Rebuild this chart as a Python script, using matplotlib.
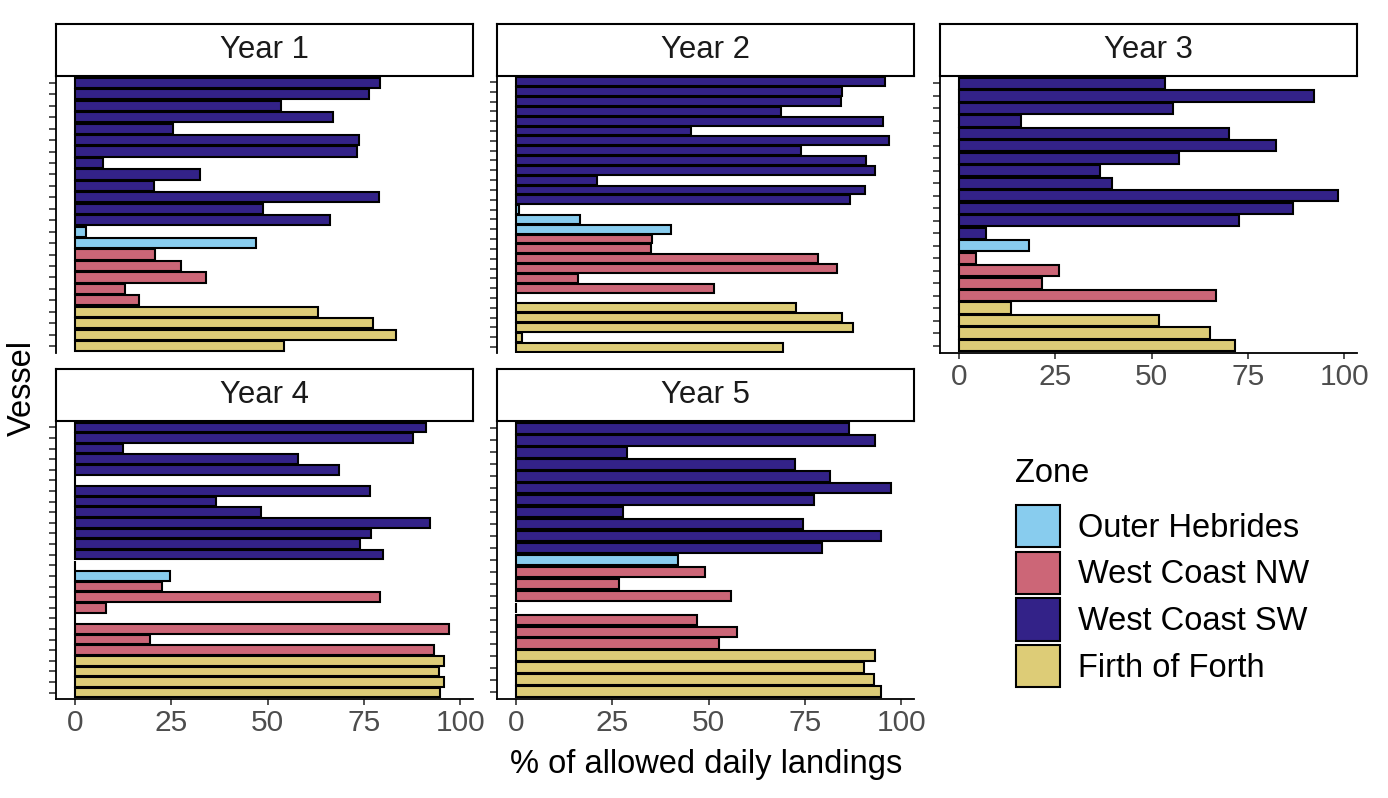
import numpy as np
import matplotlib.pyplot as plt
from matplotlib.patches import Patch

plt.rcParams['font.family'] = ['Liberation Sans', 'DejaVu Sans']

zones = ["Outer Hebrides", "West Coast NW", "West Coast SW", "Firth of Forth"]
zone_codes = ["O", "N", "S", "F"]
zone_colours = ["#88CCEE", "#CC6677", "#332288", "#DDCC77"]
years = ["Year 1", "Year 2", "Year 3", "Year 4", "Year 5"]

# vessels top to bottom, zone code per vessel and % of allowed daily landings
year1_zone = ["S"] * 13 + ["O"] * 2 + ["N"] * 5 + ["F"] * 4
year1_pct = [79.3, 76.4, 53.6, 67.0, 25.5, 73.7, 73.1, 7.3, 32.5, 20.6, 78.8, 48.9, 66.3,
             2.8, 46.9,
             20.8, 27.5, 33.9, 12.9, 16.5,
             63.0, 77.3, 83.4, 54.3]

year2_zone = ["S"] * 13 + ["O"] * 3 + ["N"] * 7 + ["F"] * 5
year2_pct = [95.9, 84.6, 84.4, 68.8, 95.4, 45.5, 96.9, 74.1, 90.9, 93.3, 21.1, 90.7, 86.7,
             0.9, 16.7, 40.2,
             35.4, 35.1, 78.4, 83.3, 16.2, 51.5, 0.0,
             72.7, 84.6, 87.4, 1.5, 69.4]

year3_zone = ["S"] * 13 + ["O"] * 1 + ["N"] * 4 + ["F"] * 4
year3_pct = [53.4, 92.2, 55.6, 16.0, 70.0, 82.3, 57.1, 36.6, 39.8, 98.4, 86.6, 72.7, 7.0,
             18.3,
             4.3, 25.9, 21.6, 66.6,
             13.4, 52.0, 65.1, 71.6]

year4_zone = ["S"] * 13 + ["O"] * 2 + ["N"] * 7 + ["F"] * 4
year4_pct = [91.0, 87.8, 12.5, 57.8, 68.5, 0.0, 76.6, 36.7, 48.4, 92.1, 76.9, 74.0, 79.9,
             0.0, 24.6,
             22.7, 79.2, 8.1, 0.0, 97.2, 19.4, 93.2,
             95.9, 94.6, 95.8, 94.7]

year5_zone = ["S"] * 11 + ["O"] * 1 + ["N"] * 7 + ["F"] * 4
year5_pct = [86.4, 93.3, 28.9, 72.5, 81.6, 97.3, 77.3, 27.9, 74.4, 94.7, 79.4,
             42.0,
             49.1, 26.8, 55.9, 0.0, 47.0, 57.3, 52.8,
             93.3, 90.4, 93.0, 94.7]

x_ticks = [0, 25, 50, 75, 100]

all_zones = [year1_zone, year2_zone, year3_zone, year4_zone, year5_zone]
all_pct = [year1_pct, year2_pct, year3_pct, year4_pct, year5_pct]

W, H = 1388, 798
fig = plt.figure(figsize=(W / 100, H / 100), dpi=100)

col_left = [56, 497, 940]
panel_w = 417
# (strip top, panel top, panel bottom) in pixels
rows = [(24, 76, 353), (369, 421, 699)]
slots = [(0, 0), (0, 1), (0, 2), (1, 0), (1, 1)]
show_x = [False, False, True, True, True]

colour_of = dict(zip(zone_codes, zone_colours))
xmax = max(max(p) for p in all_pct)
xlim = (-0.05 * xmax, xmax * 1.05)

for i, year in enumerate(years):
    r, c = slots[i]
    strip_top, top, bottom = rows[r]
    left = col_left[c]
    ax = fig.add_axes([left / W, 1 - bottom / H, panel_w / W, (bottom - top) / H])
    vals = all_pct[i]
    n = len(vals)
    y = np.arange(n)
    cols = [colour_of[z] for z in all_zones[i]]
    ax.barh(y, vals, height=0.9, color=cols, edgecolor="black", linewidth=1.5)
    ax.set_xlim(*xlim)
    ax.set_ylim(n - 1 + 0.6, -0.6)
    ax.set_yticks(y)
    ax.set_yticklabels([])
    ax.spines[["top", "right"]].set_visible(False)
    ax.spines["left"].set_linewidth(1.3)
    ax.tick_params(axis="y", length=5, width=1.2, color="#333333")
    if show_x[i]:
        ax.set_xticks(x_ticks)
        ax.spines["bottom"].set_linewidth(1.3)
        ax.tick_params(axis="x", length=4.5, width=1.2, color="#333333",
                       labelsize=21.5, labelcolor="#4D4D4D", pad=2.5)
    else:
        ax.spines["bottom"].set_visible(False)
        ax.set_xticks([])

    sax = fig.add_axes([left / W, 1 - top / H, panel_w / W, (top - strip_top) / H])
    sax.set_xticks([])
    sax.set_yticks([])
    for s in sax.spines.values():
        s.set_linewidth(1.5)
    sax.text(0.5, 0.5, year, ha="center", va="center", fontsize=22.4,
             color="#1A1A1A", transform=sax.transAxes)

fig.text((56 + 1357) / 2 / W, 1 - 765 / H, "% of allowed daily landings",
         ha="center", va="center", fontsize=23.5)
fig.text(22 / W, 1 - 388 / H, "Vessel", ha="center", va="center",
         rotation=90, fontsize=23.5)

# legend: title placed on its own, keys below
fig.text(1015 / W, 1 - 473 / H, "Zone", ha="left", va="center", fontsize=23.5)
handles = [Patch(facecolor=col, edgecolor="black", linewidth=1.5) for col in zone_colours]
fig.legend(handles, zones, loc="upper left",
           bbox_to_anchor=(1016 / W, 1 - 505 / H), frameon=False,
           fontsize=23.5, handlelength=1.35, handleheight=1.62, labelspacing=0.13,
           handletextpad=0.55, borderpad=0, borderaxespad=0)

fig.savefig("out.png", dpi=100)
